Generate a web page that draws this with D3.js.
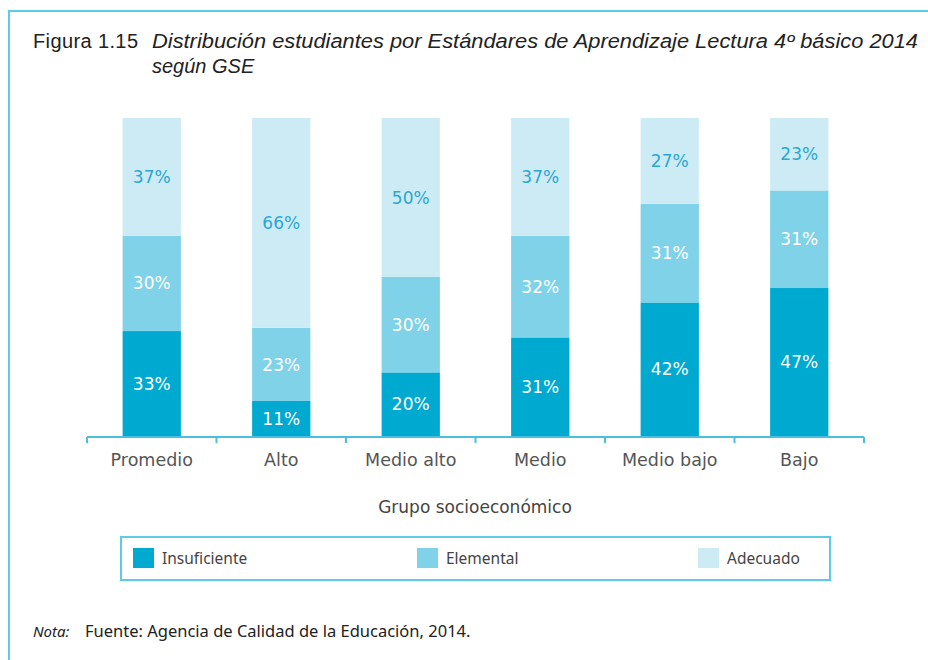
<!DOCTYPE html>
<html>
<head>
<meta charset="utf-8">
<script src="https://cdn.jsdelivr.net/npm/d3@7"></script>
<style>
  body { margin: 0; background: #fff; }
  svg { display: block; }
</style>
</head>
<body>
<div id="chart"></div>
<script>
// datos de la figura 1.15
const categories = ["Promedio", "Alto", "Medio alto", "Medio", "Medio bajo", "Bajo"];
const levels = ["Insuficiente", "Elemental", "Adecuado"];
const insuficiente = [33, 11, 20, 31, 42, 47];
const elemental = [30, 23, 30, 32, 31, 31];
const adecuado = [37, 66, 50, 37, 27, 23];

const colors = ["#00a9d0", "#80d2e8", "#cdebf5"];
const labelColors = ["#ffffff", "#ffffff", "#2aa7d2"];

const width = 928, height = 660;
const bodyFont = "'DejaVu Sans', sans-serif";
const legendFont = "'Noto Sans', 'DejaVu Sans', sans-serif";
const titleFont = "'Liberation Sans', 'DejaVu Sans', sans-serif";

const svg = d3.select('#chart').append('svg')
    .attr('width', width)
    .attr('height', height);

// marco (solo borde superior e izquierdo)
svg.append('path')
    .attr('d', `M9,${height} L9,11 L${width},11`)
    .style('fill', 'none')
    .style('stroke', '#5ccbe6')
    .style('stroke-width', 2);

// título
svg.append('text')
    .attr('x', 33).attr('y', 48)
    .attr('textLength', 105)
    .style('font-family', titleFont)
    .style('font-size', '20px')
    .style('fill', '#222')
    .text('Figura 1.15');
svg.append('text')
    .attr('x', 152).attr('y', 48)
    .attr('textLength', 766)
    .attr('lengthAdjust', 'spacingAndGlyphs')
    .style('font-family', titleFont)
    .style('font-size', '20px')
    .style('font-style', 'italic')
    .style('fill', '#222')
    .text('Distribución estudiantes por Estándares de Aprendizaje Lectura 4º básico 2014');
svg.append('text')
    .attr('x', 152).attr('y', 73)
    .style('font-family', titleFont)
    .style('font-size', '20px')
    .style('font-style', 'italic')
    .style('fill', '#222')
    .text('según GSE');

// escalas
const x = d3.scaleBand()
    .domain(categories)
    .range([87, 864])
    .paddingInner(0.55)
    .paddingOuter(0.275);

const y = d3.scaleLinear()
    .domain([0, 1])
    .range([436, 118]);

const table = categories.map((c, i) => ({
    cat: c,
    Insuficiente: insuficiente[i],
    Elemental: elemental[i],
    Adecuado: adecuado[i]
}));

// cada barra suma 100% (los redondeos pueden dar 101)
const stacked = d3.stack().keys(levels).offset(d3.stackOffsetExpand)(table);

const layer = svg.append('g')
    .selectAll('g')
    .data(stacked)
    .join('g')
    .style('fill', (d, i) => colors[i]);

layer.selectAll('rect')
    .data(d => d)
    .join('rect')
    .attr('x', d => x(d.data.cat))
    .attr('width', x.bandwidth())
    .attr('y', d => y(d[1]))
    .attr('height', d => y(d[0]) - y(d[1]));

// etiquetas de valor
svg.append('g')
    .selectAll('g')
    .data(stacked)
    .join('g')
    .style('fill', (d, i) => labelColors[i])
    .selectAll('text')
    .data(d => d.map(v => ({ v: v, key: d.key })))
    .join('text')
    .attr('x', d => x(d.v.data.cat) + x.bandwidth() / 2)
    .attr('y', d => (y(d.v[0]) + y(d.v[1])) / 2)
    .attr('dy', '0.36em')
    .attr('text-anchor', 'middle')
    .style('font-family', bodyFont)
    .style('font-size', '17px')
    .text(d => d.v.data[d.key] + '%');

// eje x con marcas en los límites de cada grupo
const boundaries = d3.range(categories.length + 1).map(i => 87 + i * (777 / categories.length));
const axis = svg.append('g');
axis.append('line')
    .attr('x1', 87).attr('x2', 864)
    .attr('y1', 437).attr('y2', 437)
    .style('stroke', '#4cbfdf')
    .style('stroke-width', 2);
axis.selectAll('.tick')
    .data(boundaries)
    .join('line')
    .attr('class', 'tick')
    .attr('x1', d => d).attr('x2', d => d)
    .attr('y1', 437).attr('y2', 443)
    .style('stroke', '#4cbfdf')
    .style('stroke-width', 2);

svg.append('g')
    .selectAll('text')
    .data(categories)
    .join('text')
    .attr('x', d => x(d) + x.bandwidth() / 2)
    .attr('y', 466)
    .attr('text-anchor', 'middle')
    .style('font-family', bodyFont)
    .style('font-size', '17.5px')
    .style('fill', '#555')
    .text(d => d);

svg.append('text')
    .attr('x', 475).attr('y', 513)
    .attr('text-anchor', 'middle')
    .style('font-family', bodyFont)
    .style('font-size', '17px')
    .style('fill', '#444')
    .text('Grupo socioeconómico');

// leyenda
svg.append('rect')
    .attr('x', 121).attr('y', 537)
    .attr('width', 709).attr('height', 43)
    .style('fill', 'none')
    .style('stroke', '#5ccbe6')
    .style('stroke-width', 2);

const legendX = [133, 417, 698];
const legend = svg.append('g')
    .selectAll('g')
    .data(levels)
    .join('g')
    .attr('transform', (d, i) => `translate(${legendX[i]},548)`);
legend.append('rect')
    .attr('width', 21).attr('height', 20)
    .style('fill', (d, i) => colors[i]);
legend.append('text')
    .attr('x', 29).attr('y', 16)
    .style('font-family', legendFont)
    .style('font-size', '15.5px')
    .style('fill', '#444')
    .text(d => d);

// nota
svg.append('text')
    .attr('x', 33).attr('y', 637)
    .style('font-family', legendFont)
    .style('font-size', '15px')
    .style('font-style', 'italic')
    .style('fill', '#222')
    .text('Nota:');
svg.append('text')
    .attr('x', 85).attr('y', 637)
    .style('font-family', legendFont)
    .style('font-size', '16.5px')
    .style('fill', '#222')
    .text('Fuente: Agencia de Calidad de la Educación, 2014.');
</script>
</body>
</html>
